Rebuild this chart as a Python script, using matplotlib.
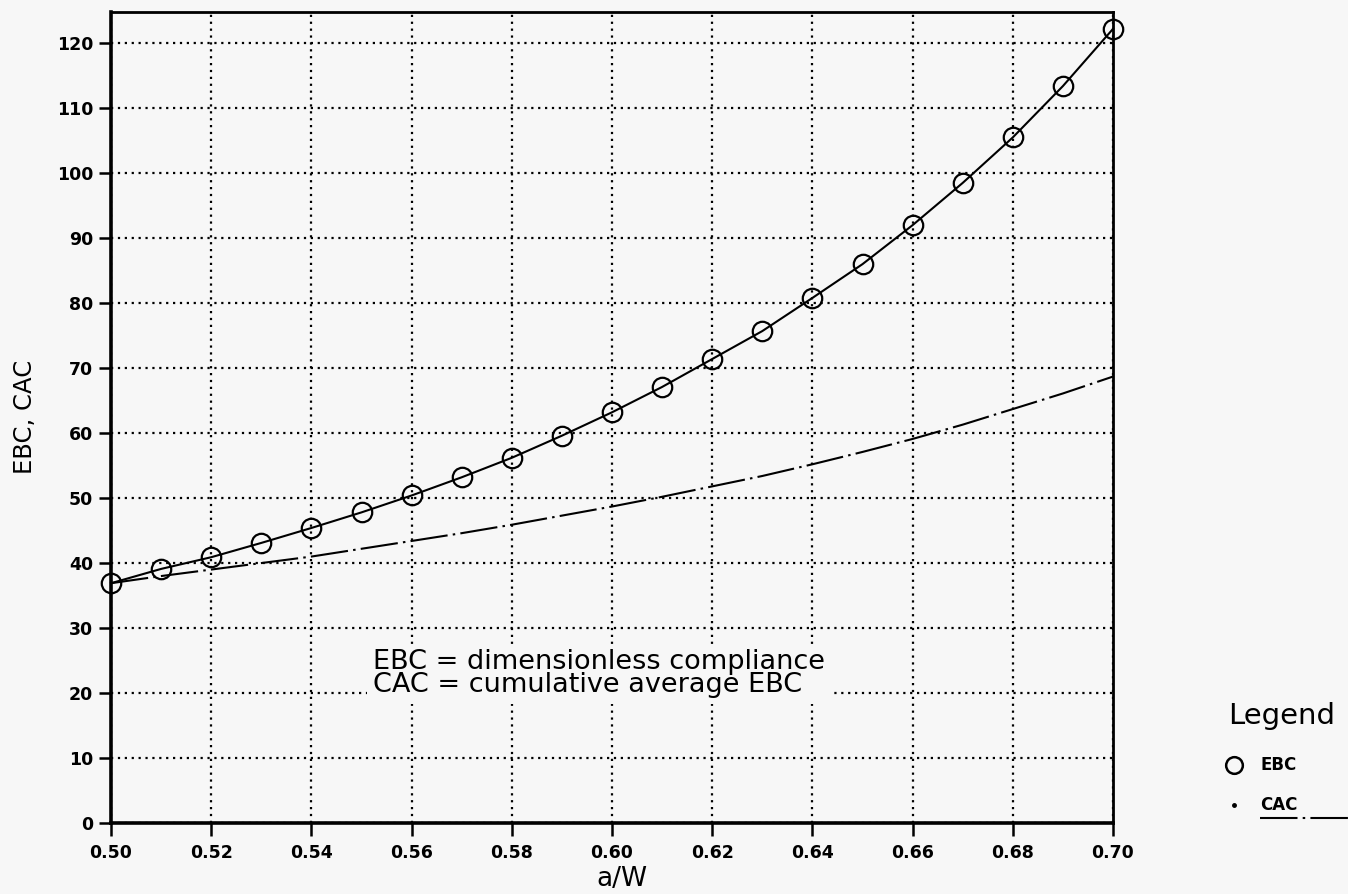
import matplotlib
matplotlib.use("Agg")
import matplotlib.pyplot as plt
from matplotlib.lines import Line2D

# ---- data ----
a_w = [0.50, 0.51, 0.52, 0.53, 0.54, 0.55, 0.56, 0.57, 0.58, 0.59, 0.60,
       0.61, 0.62, 0.63, 0.64, 0.65, 0.66, 0.67, 0.68, 0.69, 0.70]
ebc = [36.9, 39.1, 40.9, 43.1, 45.4, 47.8, 50.4, 53.2, 56.2, 59.6, 63.2,
       67.1, 71.4, 75.7, 80.8, 86.0, 92.0, 98.5, 105.5, 113.4, 122.2]
cac = [36.9, 38.0, 39.0, 40.0, 41.0, 42.2, 43.4, 44.6, 45.9, 47.3, 48.7,
       50.2, 51.8, 53.4, 55.2, 57.1, 59.1, 61.3, 63.7, 66.1, 68.7]
x_ticks = [0.50, 0.52, 0.54, 0.56, 0.58, 0.60, 0.62, 0.64, 0.66, 0.68, 0.70]
x_tick_labels = ["0.50", "0.52", "0.54", "0.56", "0.58", "0.60",
                 "0.62", "0.64", "0.66", "0.68", "0.70"]
y_ticks = [0, 10, 20, 30, 40, 50, 60, 70, 80, 90, 100, 110, 120]
note_lines = ["EBC = dimensionless compliance", "CAC = cumulative average EBC"]

W, H = 1348, 894
bg = "#f7f7f7"
fig = plt.figure(figsize=(W / 100, H / 100), dpi=100, facecolor=bg)
ax = fig.add_axes([111 / W, 1 - 823 / H, (1113 - 111) / W, (823 - 12) / H])
ax.set_facecolor(bg)

ax.set_xlim(0.50, 0.70)
ax.set_ylim(0, 124.8)

# grid
ax.set_xticks(x_ticks)
ax.set_xticklabels(x_tick_labels)
ax.set_yticks(y_ticks)
ax.grid(True, color="black", linestyle=(0, (1, 2.1)), linewidth=1.6)
ax.set_axisbelow(True)

# data
ax.plot(a_w, cac, color="black", lw=1.5, dashes=(18, 2.5, 1.2, 2.5), zorder=3)
ax.plot(a_w, ebc, color="black", lw=1.5, marker="o", markersize=14,
        markerfacecolor="none", markeredgecolor="black", markeredgewidth=1.6,
        zorder=4, clip_on=False)

# spines and ticks
for s in ["left", "bottom"]:
    ax.spines[s].set_linewidth(2.6)
for s in ["top", "right"]:
    ax.spines[s].set_linewidth(2.0)
ax.tick_params(axis="both", direction="out", length=9, width=1.8,
               labelsize=12.5, pad=4)
ax.tick_params(axis="x", pad=6)
for lab in ax.get_xticklabels() + ax.get_yticklabels():
    lab.set_fontweight("bold")

ax.set_xlabel("a/W", fontsize=19)
ax.xaxis.set_label_coords((622 - 111) / (1113 - 111), -(879 - 823) / (823 - 12))
ax.xaxis.label.set_va("center")
ax.set_ylabel("EBC, CAC", fontsize=17.5)
ax.yaxis.set_label_coords(-(111 - 25) / (1113 - 111), (823 - 417) / (823 - 12))
ax.yaxis.label.set_va("center")

# annotation
txt = ax.text(0.5523, 23.0, note_lines[0] + "\n" + note_lines[1],
              fontsize=19.5, ha="left", va="center", linespacing=0.83, zorder=5)
txt.set_bbox(dict(facecolor=bg, edgecolor="none", pad=4))

# legend drawn manually
fig.text(1228 / W, 1 - 716 / H, "Legend", fontsize=21, ha="left", va="center")
fig.add_artist(Line2D([1234 / W], [1 - 765 / H], marker="o", markersize=12,
                      markerfacecolor="none", markeredgecolor="black",
                      markeredgewidth=1.8, transform=fig.transFigure))
fig.text(1260 / W, 1 - 765 / H, "EBC", fontsize=12, fontweight="bold",
         ha="left", va="center")
fig.add_artist(Line2D([1234 / W], [1 - 805 / H], marker="o", markersize=2.5,
                      color="black", transform=fig.transFigure))
fig.text(1260 / W, 1 - 805 / H, "CAC", fontsize=12, fontweight="bold",
         ha="left", va="center")
fig.add_artist(Line2D([1260 / W, W / W], [1 - 818 / H, 1 - 818 / H],
                      color="black", lw=1.5, dashes=(18, 2.5, 1.2, 2.5),
                      transform=fig.transFigure))

fig.savefig("out.png", dpi=100, facecolor=bg)
